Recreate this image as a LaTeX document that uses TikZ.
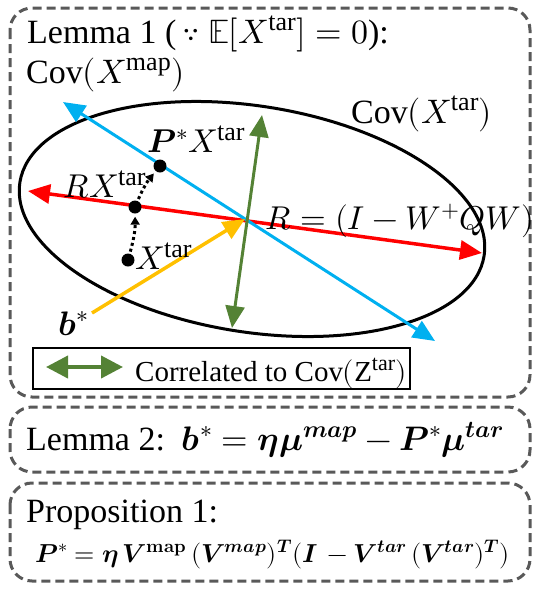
\documentclass[tikz,border=0pt]{standalone}
\usepackage{amsmath}
\usepackage{fontspec}
\usepackage{unicode-math}
\setmainfont{Liberation Serif}
\newcommand\upsc[1]{\text{\fontsize{26}{26}\selectfont #1}}
\newcommand\upsm[1]{\text{\fontsize{22}{22}\selectfont #1}}
\usetikzlibrary{arrows.meta,shapes.geometric}
\definecolor{myred}{HTML}{FF0000}
\definecolor{myblue}{HTML}{00B0F0}
\definecolor{mygreen}{HTML}{548235}
\definecolor{myyellow}{HTML}{FFC000}
\definecolor{framegray}{HTML}{595959}
\tikzset{
  x=1pt,y=1pt,
  big/.style={font=\fontsize{34}{40}\selectfont, inner sep=0pt, anchor=base west},
  lab/.style={font=\fontsize{33}{40}\selectfont, inner sep=0pt, anchor=base west},
  mid/.style={font=\fontsize{29}{34}\selectfont, inner sep=0pt, anchor=base west},
  small/.style={font=\fontsize{26}{32}\selectfont, inner sep=0pt, anchor=base west},
  frame/.style={draw=framegray, line width=3pt, dash pattern=on 9pt off 5pt, rounded corners=22pt},
  tip/.style={-{Triangle[length=22pt,width=19pt]}},
  dtip/.style={{Triangle[length=22pt,width=19pt]}-{Triangle[length=22pt,width=19pt]}},
  dot/.style={circle, fill=black, inner sep=0pt, minimum size=13pt},
  dotarrow/.style={line width=3pt, dash pattern=on 3pt off 3pt, -{Triangle[length=8pt,width=9pt]}, shorten >=3pt, shorten <=2pt},
}
\begin{document}
\begin{tikzpicture}
\useasboundingbox (0,0) rectangle (540,-590);
% frames
\draw[frame] (10,-8) rectangle (530,-397);
\draw[frame] (10,-407) rectangle (530,-472);
\draw[frame] (10,-483) rectangle (530,-581);
% titles
\node[big] (l1) at (27,-43) {Lemma 1 (\,$\because\ \mathbb{E}[X^{\upsc{tar}}]=0$):};
\node[big] (covmap) at (26,-83) {$\mathrm{Cov}(X^{\upsc{map}})$};
\node[big] (covtar) at (351,-123) {$\mathrm{Cov}(X^{\upsc{tar}})$};
% ellipse
\node[draw, ellipse, line width=3pt, minimum width=470pt, minimum height=226pt, inner sep=0pt, rotate=-9] (ell) at (252,-219) {};
% connector end points
\coordinate (c) at (245,-219);
\coordinate (redL) at (28,-191);
\coordinate (redR) at (482,-253);
\coordinate (blueT) at (63,-102);
\coordinate (blueB) at (435,-341);
\coordinate (greenT) at (262,-115);
\coordinate (greenB) at (232,-328);
\coordinate (yelS) at (92,-313);
% arrows
\draw[myred, line width=3.5pt, dtip] (redL) -- (redR);
\draw[myblue, line width=3pt, dtip] (blueT) -- (blueB);
\draw[mygreen, line width=3pt, dtip] (greenT) -- (greenB);
\draw[myyellow, line width=3.5pt, tip] (yelS) -- (c);
% dots
\node[dot] (pdot) at (160,-166) {};
\node[dot] (rdot) at (135,-207) {};
\node[dot] (xdot) at (128,-260) {};
\draw[dotarrow] (xdot) to[bend right=8] (rdot);
\draw[dotarrow] (rdot) to[bend left=8] (pdot);
% labels
\node[lab] (plab) at (147,-152) {$\symbfit{P}^{*}X^{\upsc{tar}}$};
\node[lab] (rlab) at (63,-197) {$RX^{\upsc{tar}}$};
\node[lab] (xlab) at (135,-269) {$X^{\upsc{tar}}$};
\node[lab] (Rlab) at (265,-229) {$R=(I-W^{+}QW)$};
\node[big] (blab) at (58,-335) {$\symbfit{b}^{*}$};
% legend
\node[draw, line width=2pt, minimum width=377pt, minimum height=41pt, inner sep=0pt, anchor=north west] (legend) at (32,-347) {};
\coordinate (legL) at (46,-367);
\coordinate (legR) at (123,-367);
\draw[mygreen, line width=4pt, {Triangle[length=22pt,width=22pt]}-{Triangle[length=22pt,width=22pt]}] (legL) -- (legR);
\node[mid] (legtxt) at (135,-381) {Correlated to $\mathrm{Cov}(\mathrm{Z}^{\upsm{tar}})$};
% lemma 2
\node[big] (l2) at (26,-450) {Lemma 2:\ \ $\symbfit{b}^{*}=\symbfit{\eta}\symbfit{\mu}^{\symbfit{map}}-\symbfit{P}^{*}\symbfit{\mu}^{\symbfit{tar}}$};
% proposition
\node[big] (p1) at (26,-522) {Proposition 1:};
\node[small] (p1f) at (35,-562) {$\symbfit{P}^{*}=\symbfit{\eta}\,\symbfit{V}^{\symbf{map}}\,(\symbfit{V}^{\symbfit{map}})^{\symbfit{T}}(\symbfit{I}\,-\symbfit{V}^{\symbfit{tar}}\,(\symbfit{V}^{\symbfit{tar}})^{\symbfit{T}})$};
\end{tikzpicture}
\end{document}
